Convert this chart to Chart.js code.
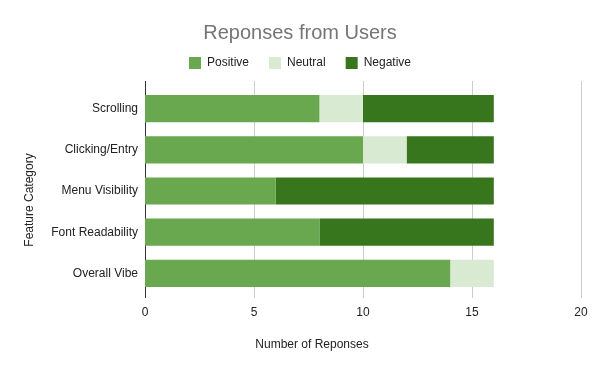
<!DOCTYPE html>
<html>
<head>
<meta charset="utf-8">
<script src="https://cdn.jsdelivr.net/npm/chart.js@4/dist/chart.umd.min.js"></script>
<style>
html,body{margin:0;padding:0;background:#fff;}
#wrap{width:600px;height:371px;position:relative;}
</style>
</head>
<body>
<div id="wrap"><canvas id="c" width="600" height="371"></canvas></div>
<script>
const categories = ["Scrolling", "Clicking/Entry", "Menu Visibility", "Font Readability", "Overall Vibe"];
const positive = [8, 10, 6, 8, 14];
const neutral  = [2, 2, 0, 0, 2];
const negative = [6, 4, 10, 8, 0];
const xTicks = [0, 5, 10, 15, 20];

const FONT = "'Liberation Sans', Arial, sans-serif";

const legendGap = {
  id: 'legendGap',
  beforeInit(chart) {
    const fit = chart.legend.fit;
    chart.legend.fit = function () { fit.bind(chart.legend)(); this.height += 9; };
  }
};

const gridLines = {
  id: 'gridLines',
  beforeDatasetsDraw(chart) {
    const ctx = chart.ctx;
    const xs = chart.scales.x;
    const top = chart.chartArea.top - 7;
    const bottom = chart.chartArea.bottom + 4;
    ctx.save();
    ctx.lineWidth = 1;
    xs.ticks.forEach(t => {
      const px = Math.round(xs.getPixelForValue(t.value)) + 0.5;
      ctx.strokeStyle = t.value === 0 ? '#333333' : '#cccccc';
      ctx.beginPath();
      ctx.moveTo(px, top);
      ctx.lineTo(px, bottom);
      ctx.stroke();
    });
    ctx.restore();
  }
};

const axisTitles = {
  id: 'axisTitles',
  afterDraw(chart) {
    const ctx = chart.ctx;
    ctx.save();
    ctx.fillStyle = '#222222';
    ctx.font = "12px " + FONT;
    ctx.textAlign = 'center';
    ctx.textBaseline = 'middle';
    ctx.fillText('Number of Reponses', 312, 345);
    ctx.translate(30, 200);
    ctx.rotate(-Math.PI / 2);
    ctx.fillText('Feature Category', 0, 0);
    ctx.restore();
  }
};

new Chart(document.getElementById('c'), {
  type: 'bar',
  data: {
    labels: categories,
    datasets: [
      { label: 'Positive', data: positive, backgroundColor: '#6aa84f', borderWidth: 0 },
      { label: 'Neutral', data: neutral, backgroundColor: '#d9ead3', borderWidth: 0 },
      { label: 'Negative', data: negative, backgroundColor: '#38761d', borderWidth: 0 }
    ]
  },
  options: {
    indexAxis: 'y',
    responsive: false,
    animation: false,
    barPercentage: 0.66,
    categoryPercentage: 1,
    layout: { padding: { left: 19, right: 19, top: 0, bottom: 0 } },
    plugins: {
      title: {
        display: true,
        text: 'Reponses from Users',
        color: '#757575',
        font: { family: FONT, size: 20, weight: 'normal' },
        padding: { top: 21, bottom: -8 }
      },
      legend: {
        display: true,
        labels: {
          boxWidth: 12, boxHeight: 12,
          padding: 20,
          color: '#222222',
          font: { family: FONT, size: 12 }
        }
      },
      tooltip: { enabled: false }
    },
    scales: {
      x: {
        stacked: true,
        min: 0, max: 20,
        afterBuildTicks(scale) { scale.ticks = xTicks.map(v => ({ value: v })); },
        afterFit(scale) { scale.height = 77; scale.paddingRight = 0; scale.paddingLeft = 0; },
        ticks: { color: '#222222', font: { family: FONT, size: 12 }, padding: 11 },
        grid: { display: false, drawTicks: false },
        border: { display: false }
      },
      y: {
        stacked: true,
        afterFit(scale) { scale.width = 126; },
        ticks: { color: '#222222', font: { family: FONT, size: 12 }, padding: 7 },
        grid: { display: false, drawTicks: false },
        border: { display: false }
      }
    }
  },
  plugins: [legendGap, gridLines, axisTitles]
});
</script>
</body>
</html>
